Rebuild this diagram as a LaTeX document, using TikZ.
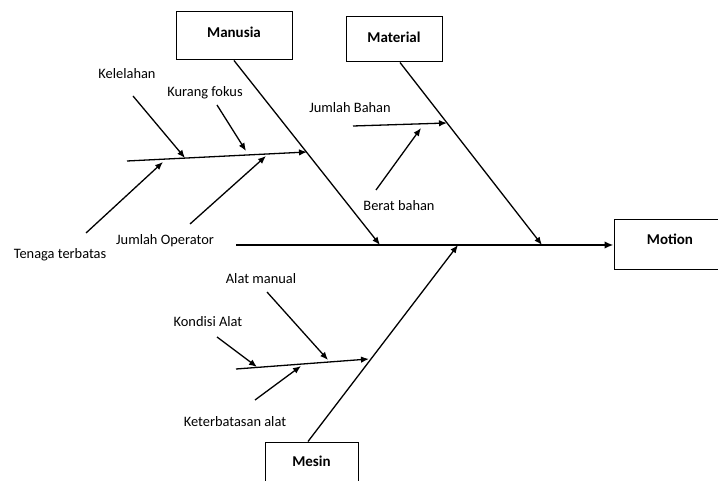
\documentclass[tikz,border=0pt]{standalone}
\usepackage{fontspec}
\setmainfont{Carlito}
\usetikzlibrary{arrows.meta}
\begin{document}
\begin{tikzpicture}[x=1pt,y=-1pt,
  box/.style={draw, line width=1pt, font=\bfseries\fontsize{15}{18}\selectfont, inner sep=0pt},
  lbl/.style={font=\fontsize{14.4}{17}\selectfont, inner sep=0pt},
  bone/.style={line width=1.3pt, -{Latex[length=8pt,width=6.5pt]}},
  spine/.style={line width=2pt, -{Latex[length=9pt,width=7.5pt]}}]
\useasboundingbox (0,0) rectangle (718,481);
\clip (0,0) rectangle (718,481);
% category boxes
\node[box, minimum width=116pt, minimum height=48pt, text depth=8pt] (man) at (234,36) {Manusia};
\node[box, minimum width=96pt, minimum height=45pt, text depth=5pt] (mat) at (394,39.5) {Material};
\node[box, minimum width=112pt, minimum height=50pt, text depth=12pt] (mot) at (670,245) {Motion};
\node[box, minimum width=93pt, minimum height=50pt, text depth=12pt] (mes) at (311.5,467) {Mesin};
% labels
\node[lbl] (l1) at (127,74) {Kelelahan};
\node[lbl] (l2) at (205,93) {Kurang fokus};
\node[lbl] (l3) at (60,255) {Tenaga terbatas};
\node[lbl] (l4) at (165,241) {Jumlah Operator};
\node[lbl] (l5) at (350,108) {Jumlah Bahan};
\node[lbl] (l6) at (399,206) {Berat bahan};
\node[lbl] (l7) at (261,279) {Alat manual};
\node[lbl] (l8) at (208,322) {Kondisi Alat};
\node[lbl] (l9) at (235,422) {Keterbatasan alat};
% coordinates
\coordinate (sp0) at (236,245);
\coordinate (tman) at (380,245);
\coordinate (tmes) at (458,245);
\coordinate (tmat) at (542,245);
\coordinate (s1a) at (127,161);
\coordinate (s1b) at (307,152);
\coordinate (a1) at (133,96);   \coordinate (b1) at (185,158);
\coordinate (a2) at (217,105);  \coordinate (b2) at (246,151);
\coordinate (a3) at (86,233);   \coordinate (b3) at (163,162);
\coordinate (a4) at (190,224);  \coordinate (b4) at (266,156);
\coordinate (s2a) at (353,126);
\coordinate (s2b) at (447,123);
\coordinate (a6) at (376,190);  \coordinate (b6) at (421,128);
\coordinate (s3a) at (236,369);
\coordinate (s3b) at (369,359);
\coordinate (a7) at (267,292);  \coordinate (b7) at (328,360);
\coordinate (a8) at (217,337);  \coordinate (b8) at (257,367);
\coordinate (a9) at (255,400);  \coordinate (b9) at (301,366);
% spine
\draw[spine] (sp0) -- (mot.west);
% main bones
\draw[bone] (man.south) -- (tman);
\draw[bone] ([xshift=6pt]mat.south) -- (tmat);
\draw[bone] ([xshift=-3.5pt]mes.north) -- (tmes);
% sub bones
\draw[bone] (s1a) -- (s1b);
\draw[bone] (a1) -- (b1);
\draw[bone] (a2) -- (b2);
\draw[bone] (a3) -- (b3);
\draw[bone] (a4) -- (b4);
\draw[bone] (s2a) -- (s2b);
\draw[bone] (a6) -- (b6);
\draw[bone] (s3a) -- (s3b);
\draw[bone] (a7) -- (b7);
\draw[bone] (a8) -- (b8);
\draw[bone] (a9) -- (b9);
\end{tikzpicture}
\end{document}
